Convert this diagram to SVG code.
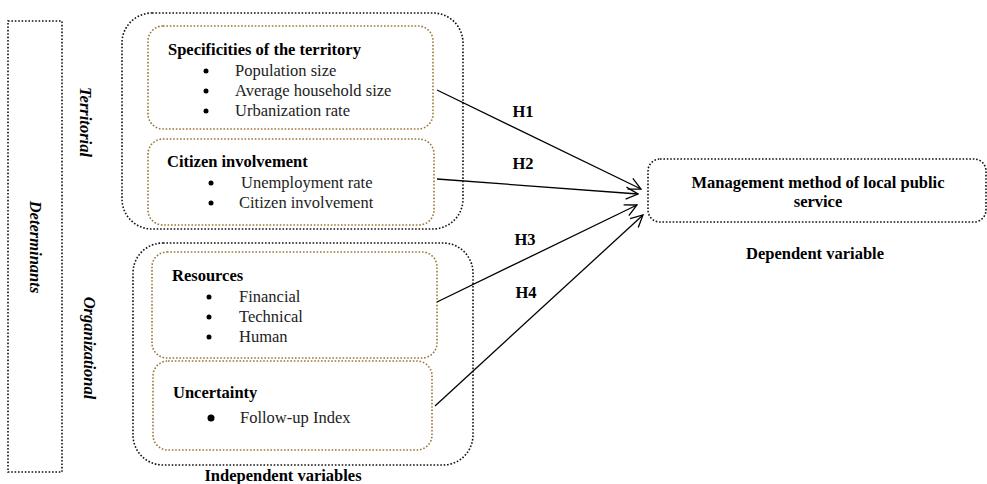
<svg xmlns="http://www.w3.org/2000/svg" width="987" height="484" viewBox="0 0 987 484">
<style>
  text { font-family: "Liberation Serif", "Times New Roman", serif; font-size: 16.5px; fill: #222; }
  .b { font-weight: bold; fill: #000; }
  .bi { font-weight: bold; font-style: italic; fill: #000; }
  .outer { fill: none; stroke: #111; stroke-width: 1.6; stroke-dasharray: 1.6 1.8; }
  .inner { fill: none; stroke: #9a783a; stroke-width: 1.6; stroke-dasharray: 1.6 1.8; }
  .edge { fill: none; stroke: #000; stroke-width: 1.3; }
  .dot { fill: #000; }
</style>
<defs>
  <marker id="arr" markerWidth="14" markerHeight="14" refX="13" refY="7" orient="auto" markerUnits="userSpaceOnUse">
    <path d="M1,1 L13,7 L1,13" fill="none" stroke="#000" stroke-width="1.3"/>
  </marker>
</defs>

<g id="determinants">
  <rect class="outer" x="8" y="21" width="54" height="451"/>
  <text class="bi" transform="translate(30,247) rotate(90)" text-anchor="middle">Determinants</text>
</g>

<g id="territorial">
  <rect class="outer" x="122" y="13" width="341" height="216" rx="30"/>
  <text class="bi" transform="translate(80,122) rotate(90)" text-anchor="middle">Territorial</text>
</g>

<g id="organizational">
  <rect class="outer" x="133" y="243" width="340" height="222" rx="30"/>
  <text class="bi" transform="translate(84,348) rotate(90)" text-anchor="middle">Organizational</text>
</g>

<g id="specificities">
  <rect class="inner" x="148" y="26" width="285" height="103" rx="15"/>
  <text class="b" x="168" y="55">Specificities of the territory</text>
  <circle class="dot" cx="206" cy="71" r="2.5"/>
  <text x="235" y="76">Population size</text>
  <circle class="dot" cx="206" cy="91" r="2.5"/>
  <text x="235" y="96">Average household size</text>
  <circle class="dot" cx="206" cy="111" r="2.5"/>
  <text x="235" y="116">Urbanization rate</text>
</g>

<g id="citizen">
  <rect class="inner" x="148" y="139" width="286" height="86" rx="15"/>
  <text class="b" x="167" y="167">Citizen involvement</text>
  <circle class="dot" cx="211" cy="183" r="2.5"/>
  <text x="241" y="188">Unemployment rate</text>
  <circle class="dot" cx="211" cy="203" r="2.5"/>
  <text x="239" y="208">Citizen involvement</text>
</g>

<g id="resources">
  <rect class="inner" x="152" y="252" width="285" height="106" rx="15"/>
  <text class="b" x="172" y="281">Resources</text>
  <circle class="dot" cx="209" cy="297" r="2.5"/>
  <text x="239" y="302">Financial</text>
  <circle class="dot" cx="209" cy="317" r="2.5"/>
  <text x="239" y="322">Technical</text>
  <circle class="dot" cx="209" cy="337" r="2.5"/>
  <text x="239" y="342">Human</text>
</g>

<g id="uncertainty">
  <rect class="inner" x="153" y="361" width="279" height="89" rx="15"/>
  <text class="b" x="173" y="398">Uncertainty</text>
  <circle class="dot" cx="211" cy="418" r="3.5"/>
  <text x="240" y="423">Follow-up Index</text>
</g>

<g id="independent-label">
  <text class="b" x="283" y="481" text-anchor="middle">Independent variables</text>
</g>

<g id="dependent">
  <rect class="outer" x="648" y="159" width="338" height="63" rx="12"/>
  <text class="b" x="818" y="188" text-anchor="middle">Management method of local public</text>
  <text class="b" x="818" y="207" text-anchor="middle">service</text>
  <text class="b" x="815" y="259" text-anchor="middle">Dependent variable</text>
</g>

<g id="connectors">
  <line class="edge" x1="437" y1="90" x2="641" y2="189" marker-end="url(#arr)"/>
  <line class="edge" x1="437" y1="179" x2="638" y2="194" marker-end="url(#arr)"/>
  <line class="edge" x1="437" y1="302" x2="637" y2="205" marker-end="url(#arr)"/>
  <line class="edge" x1="435" y1="406" x2="643" y2="215" marker-end="url(#arr)"/>
  <text class="b" x="523" y="117" text-anchor="middle">H1</text>
  <text class="b" x="523" y="169" text-anchor="middle">H2</text>
  <text class="b" x="525" y="245" text-anchor="middle">H3</text>
  <text class="b" x="526" y="298" text-anchor="middle">H4</text>
</g>
</svg>
